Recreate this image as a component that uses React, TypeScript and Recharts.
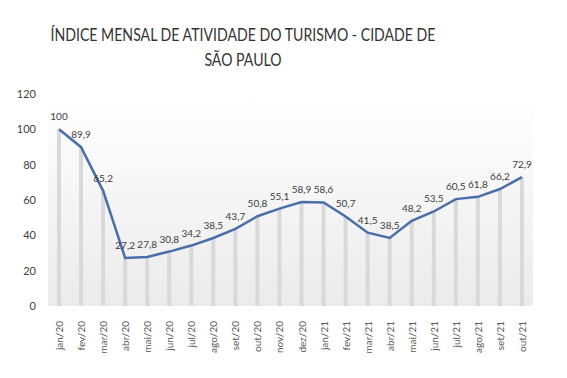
import React from "react";
import {
  ComposedChart,
  Line,
  Bar,
  XAxis,
  YAxis,
  CartesianGrid,
  LabelList,
} from "recharts";

const months = [
  "jan/20", "fev/20", "mar/20", "abr/20", "mai/20", "jun/20", "jul/20", "ago/20",
  "set/20", "out/20", "nov/20", "dez/20", "jan/21", "fev/21", "mar/21", "abr/21",
  "mai/21", "jun/21", "jul/21", "ago/21", "set/21", "out/21",
];

const indexValues = [
  100, 89.9, 65.2, 27.2, 27.8, 30.8, 34.2, 38.5, 43.7, 50.8, 55.1, 58.9, 58.6,
  50.7, 41.5, 38.5, 48.2, 53.5, 60.5, 61.8, 66.2, 72.9,
];

const yTicks = [0, 20, 40, 60, 80, 100, 120];

const data = months.map((m, i) => ({ month: m, value: indexValues[i] }));

const FONT = "Lato, 'Open Sans', sans-serif";

// rotated month labels under the axis
function MonthTick(props: any) {
  const { x, y, payload } = props;
  return (
    <text
      x={x + 4}
      y={y + 7}
      transform={`rotate(-90, ${x + 4}, ${y + 7})`}
      textAnchor="end"
      fontSize={10}
      fontFamily={FONT}
      fill="#595959"
    >
      {payload.value}
    </text>
  );
}

export default function App() {
  return (
    <div
      style={{
        position: "absolute",
        left: 0,
        top: 0,
        width: 567,
        height: 378,
        background: "#fff",
        fontFamily: FONT,
      }}
    >
      <svg width={0} height={0} style={{ position: "absolute" }}>
        <defs>
          <linearGradient id="plotBg" x1="0" y1="0" x2="0" y2="1">
            <stop offset="0%" stopColor="#ffffff" />
            <stop offset="100%" stopColor="#ebebeb" />
          </linearGradient>
        </defs>
      </svg>
      <div
        style={{
          position: "absolute",
          left: 0,
          width: 486,
          top: 22,
          textAlign: "center",
          fontSize: 17,
          lineHeight: "25px",
          color: "#333333",
          whiteSpace: "nowrap",
          transform: "scaleX(0.83)",
          transformOrigin: "243px 0",
        }}
      >
        ÍNDICE MENSAL DE ATIVIDADE DO TURISMO - CIDADE DE
        <br />
        SÃO PAULO
      </div>
      <div style={{ position: "absolute", left: 0, top: 0 }}>
        <ComposedChart
          width={567}
          height={378}
          data={data}
          margin={{ top: 94, right: 34, bottom: 0, left: 0 }}
          barCategoryGap={0}
        >
          <CartesianGrid
            horizontal={false}
            vertical={false}
            fill="url(#plotBg)"
            fillOpacity={1}
          />
          <XAxis
            dataKey="month"
            height={72}
            interval={0}
            axisLine={false}
            tickLine={false}
            tick={<MonthTick />}
          />
          <YAxis
            width={48}
            domain={[0, 120]}
            ticks={yTicks}
            axisLine={false}
            tickLine={false}
            tickSize={0}
            tickMargin={12}
            tick={{ fontSize: 11, fill: "#404040", fontFamily: FONT }}
          />
          <Bar
            dataKey="value"
            barSize={4}
            fill="#d9d9d9"
            isAnimationActive={false}
          />
          <Line
            type="linear"
            dataKey="value"
            stroke="#4a6ea8"
            strokeWidth={2.5}
            dot={false}
            activeDot={false}
            isAnimationActive={false}
          >
            <LabelList
              dataKey="value"
              position="top"
              offset={9}
              fontSize={10}
              fill="#404040"
              fontFamily={FONT}
              formatter={(v: any) => String(v).replace(".", ",")}
            />
          </Line>
        </ComposedChart>
      </div>
    </div>
  );
}
